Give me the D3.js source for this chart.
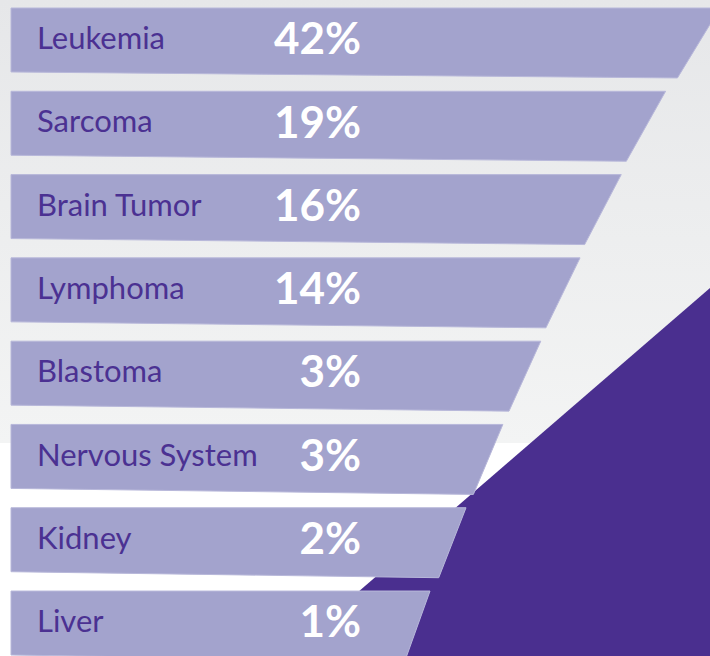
<!DOCTYPE html>
<html>
<head>
<meta charset="utf-8">
<script src="https://cdn.jsdelivr.net/npm/d3@7"></script>
<style>
  html, body { margin: 0; padding: 0; background: #ffffff; }
  svg { display: block; }
</style>
</head>
<body>
<svg id="chart" width="710" height="656"></svg>
<script>
// ---- data ----
const categories = ["Leukemia", "Sarcoma", "Brain Tumor", "Lymphoma", "Blastoma", "Nervous System", "Kidney", "Liver"];
const percentages = [42, 19, 16, 14, 3, 3, 2, 1];
const percentLabels = ["42%", "19%", "16%", "14%", "3%", "3%", "2%", "1%"];

const W = 710, H = 656;
const svg = d3.select("#chart");

// background
const defs = svg.append("defs");
const grad = defs.append("linearGradient").attr("id", "bg").attr("x1", 0).attr("y1", 0).attr("x2", 0).attr("y2", 1);
grad.append("stop").attr("offset", "0%").attr("stop-color", "#e6e7e9");
grad.append("stop").attr("offset", "100%").attr("stop-color", "#f3f4f4");
svg.append("rect").attr("x", 0).attr("y", 0).attr("width", W).attr("height", H).attr("fill", "#ffffff");
svg.append("rect").attr("x", 0).attr("y", 0).attr("width", W).attr("height", 443).attr("fill", "url(#bg)");

// dark triangle
svg.append("path")
  .attr("d", d3.line()([[710, 288], [710, 656], [284, 656]]) + "Z")
  .attr("fill", "#4a2f8f");

// scales
const y = d3.scaleBand().domain(categories).range([8, 655]).paddingInner(0.232).paddingOuter(0);
const idx = d3.scaleOrdinal().domain(categories).range(d3.range(categories.length));
const xRight = d3.scalePow().exponent(0.86).domain([0, categories.length - 1]).range([720, 430]);
const x0 = 11;
const slantRatio = 0.06;
const tilt = 6;

const rows = categories.map((c, i) => ({ cat: c, value: percentages[i], label: percentLabels[i] }));

const g = svg.append("g");
g.selectAll("path.bar").data(rows).join("path")
  .attr("class", "bar")
  .attr("d", d => {
    const top = y(d.cat), bot = top + y.bandwidth();
    const xr = xRight(idx(d.cat));
    const slant = slantRatio * (xr - x0);
    return d3.line()([[x0, top], [xr, top], [xr - slant, bot + tilt], [x0, bot]]) + "Z";
  })
  .attr("fill", "#a3a3cd")
  .attr("stroke", "#b8b8da")
  .attr("stroke-width", 1);

g.selectAll("text.cat").data(rows).join("text")
  .attr("class", "cat")
  .attr("x", 37)
  .attr("y", d => y(d.cat) + y.bandwidth() / 2 - 2 + 0.36 * 31)
  .attr("font-family", "Lato, 'Open Sans', sans-serif")
  .attr("font-size", 31)
  .attr("fill", "#4b3192")
  .text(d => d.cat);

g.selectAll("text.pct").data(rows).join("text")
  .attr("class", "pct")
  .attr("x", 361)
  .attr("y", d => y(d.cat) + y.bandwidth() / 2 - 1.5 + 0.36 * 44)
  .attr("text-anchor", "end")
  .attr("font-family", "Lato, 'Open Sans', sans-serif")
  .attr("font-weight", "bold")
  .attr("font-size", 44)
  .attr("fill", "#ffffff")
  .text(d => d.label);
</script>
</body>
</html>
